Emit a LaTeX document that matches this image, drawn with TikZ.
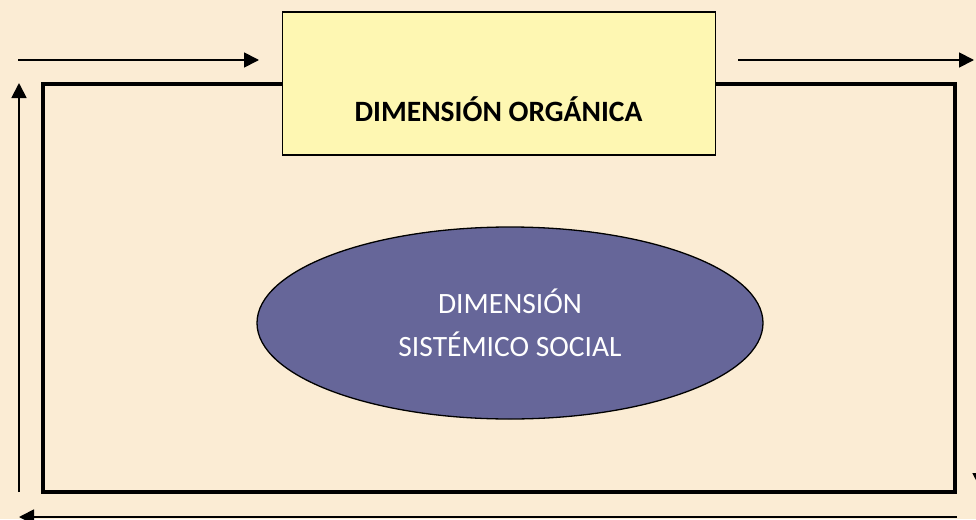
\documentclass[tikz,border=0pt]{standalone}
\usepackage{fontspec}
\setmainfont{Carlito}
\usetikzlibrary{shapes.geometric,arrows.meta}
\definecolor{parch}{RGB}{251,236,212}
\definecolor{boxyellow}{RGB}{254,247,178}
\definecolor{ellblue}{RGB}{102,102,153}
\tikzset{
  flow/.style={line width=1.8pt,-{Triangle[length=15pt,width=15pt]}},
  frame/.style={line width=4pt,line cap=rect},
}
\begin{document}
\begin{tikzpicture}[x=1pt,y=-1pt]
\fill[parch] (0,0) rectangle (976,519);
\useasboundingbox (0,0) rectangle (976,519);
% outer frame
\coordinate (f1) at (43,84);
\coordinate (f2) at (955,492);
\draw[frame] (f1) rectangle (f2);
% organic box
\node[draw=black,line width=1.3pt,fill=boxyellow,minimum width=433pt,minimum height=143pt,inner sep=0pt] (org) at (499.2,83.5) {};
\node[font=\fontsize{29.5}{34}\selectfont\bfseries,inner sep=0pt] (orgtxt) at (498.5,109) {DIMENSIÓN ORGÁNICA};
% ellipse
\node[ellipse,draw=black,line width=1.3pt,fill=ellblue,text=white,minimum width=506pt,minimum height=192pt,inner sep=0pt,align=center,font=\fontsize{29.5}{43}\selectfont] (soc) at (510,323) {DIMENSIÓN\\SISTÉMICO SOCIAL};
% arrows
\coordinate (a1s) at (18,60);
\coordinate (a1e) at (259,60);
\coordinate (a2s) at (738,60);
\coordinate (a2e) at (974,60);
\coordinate (a3s) at (980,90);
\coordinate (a3e) at (980,488);
\coordinate (a4s) at (957,517);
\coordinate (a4e) at (19,517);
\coordinate (a5s) at (19,492);
\coordinate (a5e) at (19,83);
\draw[flow] (a1s) -- (a1e);
\draw[flow] (a2s) -- (a2e);
\draw[flow] (a3s) -- (a3e);
\draw[flow] (a4s) -- (a4e);
\draw[flow] (a5s) -- (a5e);
\end{tikzpicture}
\end{document}
